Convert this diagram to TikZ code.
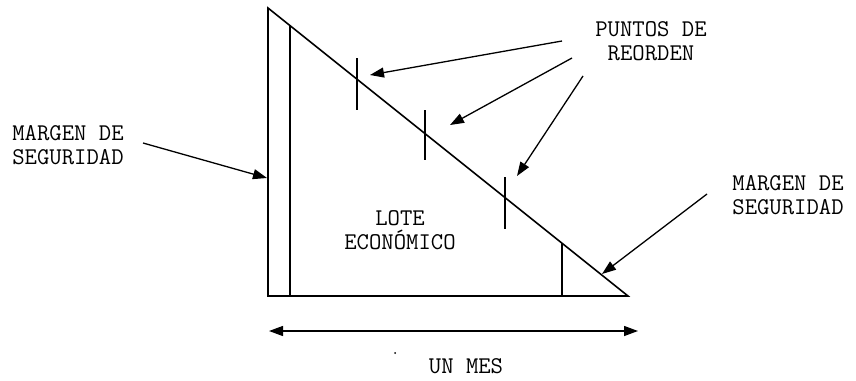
\documentclass[tikz,border=0pt]{standalone}
\usetikzlibrary{arrows.meta}
\begin{document}
\begin{tikzpicture}[x=1pt,y=-1pt,line width=1.6pt,
  lbl/.style={font=\ttfamily\fontsize{24}{24}\selectfont,align=center,inner sep=0pt},
  arr/.style={-{Triangle[length=14pt,width=10pt]},line width=1.3pt},
  darr/.style={{Triangle[length=14pt,width=10pt]}-{Triangle[length=14pt,width=10pt]},line width=1.3pt},
  tick/.style={line width=1.3pt}]
\useasboundingbox (0,0) rectangle (856,380);
% triangle
\coordinate (A) at (268,8);
\coordinate (B) at (268,296);
\coordinate (C) at (628,296);
\draw (A) -- (B) -- (C) -- cycle;
% inner verticals
\coordinate (v1t) at (290,25.6);
\coordinate (v1b) at (290,296);
\draw (v1t) -- (v1b);
\coordinate (v2t) at (562,243);
\coordinate (v2b) at (562,296);
\draw (v2t) -- (v2b);
% reorder ticks
\coordinate (t1a) at (357,58);  \coordinate (t1b) at (357,110);
\coordinate (t2a) at (425,110); \coordinate (t2b) at (425,160);
\coordinate (t3a) at (505,177); \coordinate (t3b) at (505,229);
\draw[tick] (t1a) -- (t1b);
\draw[tick] (t2a) -- (t2b);
\draw[tick] (t3a) -- (t3b);
% labels
\node[lbl] (ml) at (68,145) {MARGEN DE\\SEGURIDAD};
\node[lbl] (pr) at (651,41) {PUNTOS DE\\REORDEN};
\node[lbl] (mr) at (788,195) {MARGEN DE\\SEGURIDAD};
\node[lbl] (le) at (400,230) {LOTE\\ECONÓMICO};
\node[lbl] (um) at (466,366) {UN MES};
% arrows
\coordinate (lT) at (143,143); \coordinate (lH) at (267,178);
\draw[arr] (lT) -- (lH);
\coordinate (p1T) at (562,41); \coordinate (p1H) at (370,75);
\draw[arr] (p1T) -- (p1H);
\coordinate (p2T) at (572,58); \coordinate (p2H) at (450,125);
\draw[arr] (p2T) -- (p2H);
\coordinate (p3T) at (583,76); \coordinate (p3H) at (517,176);
\draw[arr] (p3T) -- (p3H);
\coordinate (rT) at (707,194); \coordinate (rH) at (602,274);
\draw[arr] (rT) -- (rH);
\coordinate (bL) at (269,331); \coordinate (bR) at (638,331);
\draw[darr] (bL) -- (bR);
% stray dot
\fill (395,353) circle (1pt);
\end{tikzpicture}
\end{document}
